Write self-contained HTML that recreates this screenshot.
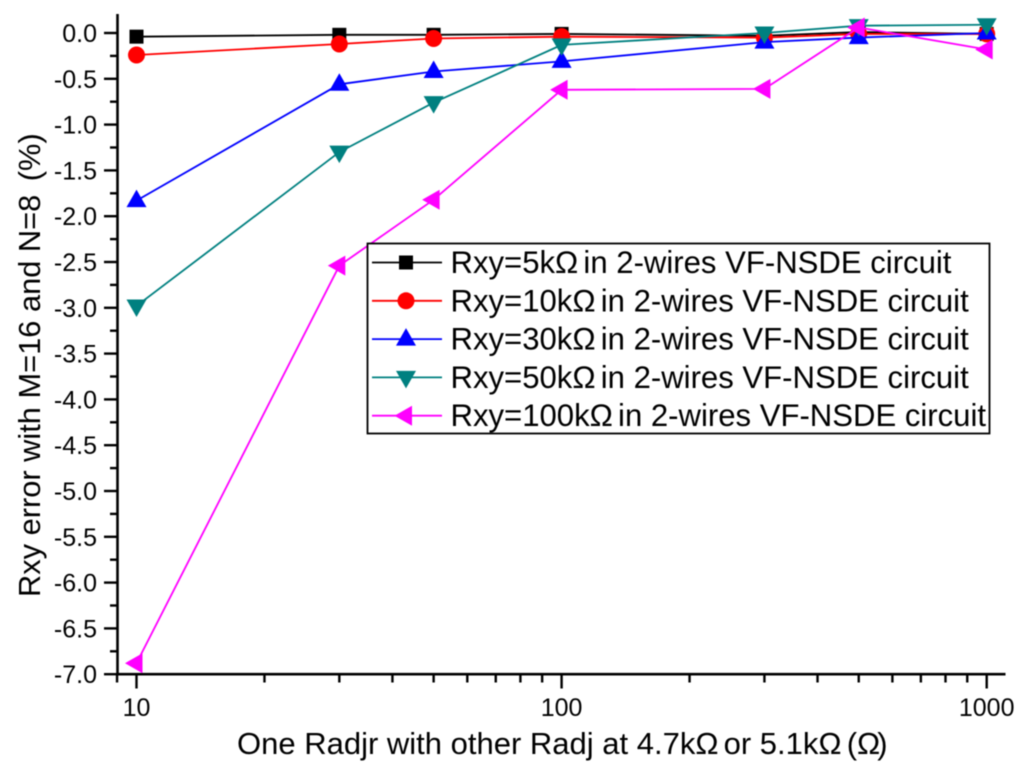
<!DOCTYPE html>
<html>
<head>
<meta charset="utf-8">
<title>Rxy error chart</title>
<style>
html,body{margin:0;padding:0;background:#fff;}
svg{display:block;font-family:"Liberation Sans",sans-serif;filter:blur(0.4px);}
</style>
</head>
<body>
<svg id="chart" width="1024" height="772" viewBox="0 0 1024 772" xmlns="http://www.w3.org/2000/svg"></svg>
<script>
const categories = [10, 30, 50, 100, 300, 500, 1000];
const rxy5k = [-0.04, -0.02, -0.02, -0.01, -0.03, 0.01, -0.01];
const rxy10k = [-0.24, -0.12, -0.06, -0.04, -0.05, -0.01, -0.01];
const rxy30k = [-1.83, -0.56, -0.42, -0.31, -0.10, -0.05, 0.00];
const rxy50k = [-2.98, -1.30, -0.76, -0.13, 0.00, 0.08, 0.09];
const rxy100k = [-6.88, -2.54, -1.82, -0.62, -0.61, 0.06, -0.18];
const yTickLabels = ["0.0","-0.5","-1.0","-1.5","-2.0","-2.5","-3.0","-3.5","-4.0","-4.5","-5.0","-5.5","-6.0","-6.5","-7.0"];
const xTickLabels = ["10","100","1000"];
const xMinorTicks = [9,20,30,40,50,60,70,80,90,200,300,400,500,600,700,800,900];
const legendValues = ["5", "10", "30", "50", "100"];

const NS = "http://www.w3.org/2000/svg";
const svg = document.getElementById("chart");
function xScale(v){ return 136.5 + (Math.log10(v) - 1) * 425.1; }
function yScale(v){ return 33 - v * 91.6; }
function mk(tag, attrs, parent){
  const el = document.createElementNS(NS, tag);
  for (const k in attrs) el.setAttribute(k, attrs[k]);
  (parent || svg).appendChild(el);
  return el;
}
function drawMarker(kind, cx, cy, color, parent){
  if (kind === "square") return mk("rect", {x:cx-7, y:cy-7, width:14, height:14, fill:color}, parent);
  if (kind === "circle") return mk("circle", {cx:cx, cy:cy, r:8.5, fill:color}, parent);
  let pts;
  if (kind === "up") pts = [[0,-11],[10,6.5],[-10,6.5]];
  if (kind === "down") pts = [[0,11],[10,-6.5],[-10,-6.5]];
  if (kind === "left") pts = [[-11.5,0],[6,-10],[6,10]];
  return mk("polygon", {points: pts.map(p => (cx+p[0])+","+(cy+p[1])).join(" "), fill:color}, parent);
}

const axes = mk("g", {stroke:"#000", fill:"none"});


const yAxisLine = mk("line", {x1:117.5, y1:14, x2:117.5, y2:675.5, "stroke-width":2.6}, axes);


const xAxisLine = mk("line", {x1:116, y1:674.2, x2:1005.5, y2:674.2, "stroke-width":2.6}, axes);



// y ticks
yTickLabels.forEach(function(label, i){
  const v = parseFloat(label);
  const y = yScale(v);
  const t = mk("line", {x1:104, y1:y, x2:117.5, y2:y, "stroke-width":2.4}, axes);
  
  
  if (i < yTickLabels.length - 1) {
    const ym = yScale(v - 0.25);
    const m = mk("line", {x1:110, y1:ym, x2:117.5, y2:ym, "stroke-width":2.4}, axes);
    
    
  }
  const txt = mk("text", {x:97, y:y+9, "text-anchor":"end", "font-size":25, fill:"#000"});
  txt.textContent = label;
  
  
});

// x ticks
xMinorTicks.forEach(function(v){
  const x = xScale(v);
  const t = mk("line", {x1:x, y1:674, x2:x, y2:682.5, "stroke-width":2.4}, axes);
  
  
});
xTickLabels.forEach(function(label){
  const x = xScale(parseFloat(label));
  const t = mk("line", {x1:x, y1:674, x2:x, y2:688.5, "stroke-width":2.4}, axes);
  
  
  const txt = mk("text", {x:x, y:716, "text-anchor":"middle", "font-size":25, fill:"#000"});
  txt.textContent = label;
  
  
});

// series
const seriesList = [
  {name:"rxy-5k", vals:rxy5k, color:"#000000", marker:"square"},
  {name:"rxy-10k", vals:rxy10k, color:"#ff0000", marker:"circle"},
  {name:"rxy-30k", vals:rxy30k, color:"#0000ff", marker:"up"},
  {name:"rxy-50k", vals:rxy50k, color:"#008080", marker:"down"},
  {name:"rxy-100k", vals:rxy100k, color:"#ff00ff", marker:"left"}
];
seriesList.forEach(function(s){
  const g = mk("g", {});
  
  
  const line = mk("polyline", {
    points: s.vals.map((v,i) => xScale(categories[i]) + "," + yScale(v)).join(" "),
    fill:"none", stroke:s.color, "stroke-width":1.8
  }, g);
  
  
  s.vals.forEach(function(v,i){
    const m = drawMarker(s.marker, xScale(categories[i]), yScale(v), s.color, g);
    
    
  });
});

// legend
const legend = mk("g", {});


const legendBox = mk("rect", {x:367.5, y:243.5, width:622, height:190, fill:"#fff", stroke:"#000", "stroke-width":1.8}, legend);


seriesList.forEach(function(s,i){
  const y = 262.5 + i * 38.3;
  const row = mk("g", {}, legend);
  
  
  const ln = mk("line", {x1:372, y1:y, x2:442, y2:y, stroke:s.color, "stroke-width":1.8}, row);
  
  
  const mkr = drawMarker(s.marker, 406, y, s.color, row);
  
  
  const txt = mk("text", {x:450.5, y:y+10.5, "font-size":31.1, fill:"#000"}, row);
  
  
  const a = mk("tspan", {}, txt);
  a.textContent = "Rxy=" + legendValues[i] + "k\u03A9";
  const b = mk("tspan", {dx:-3.5}, txt);
  b.textContent = " in 2-wires VF-NSDE circuit";
});

// axis titles
const xTitle = mk("text", {x:237, y:754, "font-size":31, fill:"#000"});


const xt1 = mk("tspan", {}, xTitle);
xt1.textContent = "One Radjr with other Radj at 4.7k\u03A9";
const xt2 = mk("tspan", {dx:-3.5}, xTitle);
xt2.textContent = " or 5.1k\u03A9";
const xt3 = mk("tspan", {dx:-3.5}, xTitle);
xt3.textContent = " (\u03A9";
const xt4 = mk("tspan", {dx:-3}, xTitle);
xt4.textContent = ")";
const yTitle = mk("text", {transform:"translate(40,597) rotate(-90)", "font-size":30.8, fill:"#000"});


const yt1 = mk("tspan", {}, yTitle);
yt1.textContent = "Rxy error with M=16 and N=8";
const yt2 = mk("tspan", {dx:5}, yTitle);
yt2.textContent = " (%)";
</script>
</body>
</html>
